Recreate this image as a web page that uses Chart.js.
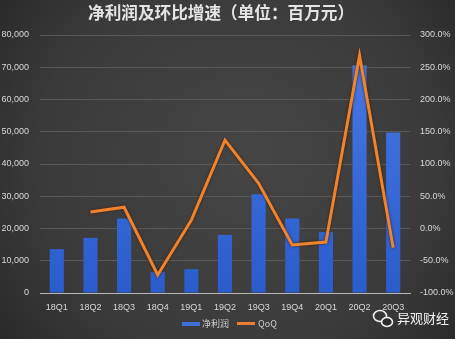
<!DOCTYPE html>
<html><head><meta charset="utf-8">
<script src="https://cdn.jsdelivr.net/npm/chart.js@4"></script>
<style>html,body{margin:0;padding:0;background:#333;}#wrap{width:455px;height:339px;}</style>
</head><body><div id="wrap"><canvas id="c" width="455" height="339"></canvas></div>
<script>
const title = "净利润及环比增速（单位：百万元）";
const categories = ["18Q1","18Q2","18Q3","18Q4","19Q1","19Q2","19Q3","19Q4","20Q1","20Q2","20Q3"];
const profitLabel = "净利润";
const profit = [13600, 17100, 23100, 6500, 7400, 18000, 30600, 23100, 18900, 70600, 49800];
const qoqLabel = "QoQ";
const qoq = [null, 25.5, 33, -72, 13, 137, 70, -25.5, -21, 268, -30];
const watermark = "异观财经";

const bg = {
  id:'bg',
  beforeDraw(chart){
    const {ctx,width,height} = chart;
    ctx.save();
    const g = ctx.createRadialGradient(width*0.55,height*0.45,20,width*0.5,height*0.5,width*0.7);
    g.addColorStop(0,'#454545');
    g.addColorStop(0.6,'#3a3a3a');
    g.addColorStop(1,'#242424');
    ctx.fillStyle = g;
    ctx.fillRect(0,0,width,height);
    ctx.restore();
  },
  beforeDatasetDraw(chart,args){
    if(args.index===1){
      const ctx=chart.ctx; ctx.save();
      ctx.shadowColor='rgba(70,30,0,0.95)'; ctx.shadowBlur=3;
    }
  },
  afterDatasetDraw(chart,args){
    if(args.index===1){ chart.ctx.restore(); }
  },
  afterDraw(chart){
    const ctx = chart.ctx;
    ctx.save();
    // title
    ctx.fillStyle='#e4e4e4';
    ctx.font='bold 17px "Noto Sans CJK SC"';
    ctx.textAlign='left'; ctx.textBaseline='middle';
    const w = ctx.measureText(title).width;
    ctx.save();
    ctx.translate(88,13);
    ctx.scale(266/w,1);
    ctx.fillText(title,0,0);
    ctx.restore();
    // legend
    ctx.font='9px "Noto Sans CJK SC"';
    ctx.textAlign='left';
    const ds = chart.data.datasets;
    ctx.fillStyle='#3f6fd8'; ctx.fillRect(182,322,18,4);
    ctx.fillStyle='#d0d0d0'; ctx.fillText(ds[0].label,202,324);
    ctx.fillStyle='#ED7D31'; ctx.fillRect(237,322,18,3);
    ctx.fillStyle='#d0d0d0'; ctx.fillText(ds[1].label,258,324);
    // watermark
    ctx.strokeStyle='#f2f2f2'; ctx.lineWidth=1.6; ctx.fillStyle='#f2f2f2';
    ctx.beginPath(); ctx.ellipse(380,316,6.5,5.5,0,0,Math.PI*2); ctx.stroke();
    ctx.beginPath(); ctx.ellipse(387,322,5.5,4.5,0,0,Math.PI*2); ctx.fillStyle='#2c2c2c'; ctx.fill(); ctx.stroke();
    ctx.fillStyle='#f2f2f2';
    ctx.font='13px "Noto Sans CJK SC"';
    ctx.fillText(watermark,397,318);
    ctx.restore();
  }
};

const ctx = document.getElementById('c').getContext('2d');
const barGrad = ctx.createLinearGradient(0,35,0,293);
barGrad.addColorStop(0,'#4a7ae6');
barGrad.addColorStop(1,'#2a5ccc');

new Chart(ctx,{
  data:{
    labels: categories,
    datasets:[
      {type:'bar', label:profitLabel, data:profit, yAxisID:'y', backgroundColor:barGrad, borderWidth:0, barPercentage:0.42, categoryPercentage:1, order:2},
      {type:'line', label:qoqLabel, data:qoq, yAxisID:'y1', borderColor:'#EE8330', borderWidth:3, pointRadius:0, tension:0, spanGaps:false, order:1}
    ]
  },
  options:{
    responsive:false, animation:false,
    layout:{padding:{top:35,left:0,right:0,bottom:0}},
    plugins:{legend:{display:false}, title:{display:false}, tooltip:{enabled:false}},
    scales:{
      x:{
        grid:{display:false, drawTicks:false},
        border:{display:true, color:'#b8b8b8', width:1},
        ticks:{color:'#d8d8d8', font:{family:'Liberation Sans', size:9}, padding:9, maxRotation:0, autoSkip:false},
        afterFit(s){ s.height = 46; }
      },
      y:{
        position:'left', min:0, max:80000,
        grid:{color:'#585858', lineWidth:1, drawTicks:false},
        border:{display:false},
        ticks:{stepSize:10000, color:'#d8d8d8', font:{family:'Liberation Sans', size:9}, padding:11,
          callback:v=>v.toLocaleString('en-US')},
        afterFit(s){ s.width = 40; }
      },
      y1:{
        position:'right', min:-100, max:300,
        grid:{display:false, drawTicks:false},
        border:{display:false},
        ticks:{stepSize:50, color:'#d8d8d8', font:{family:'Liberation Sans', size:9}, padding:10,
          callback:v=>v.toFixed(1)+'%'},
        afterFit(s){ s.width = 45; }
      }
    }
  },
  plugins:[bg]
});
</script>
</body></html>
